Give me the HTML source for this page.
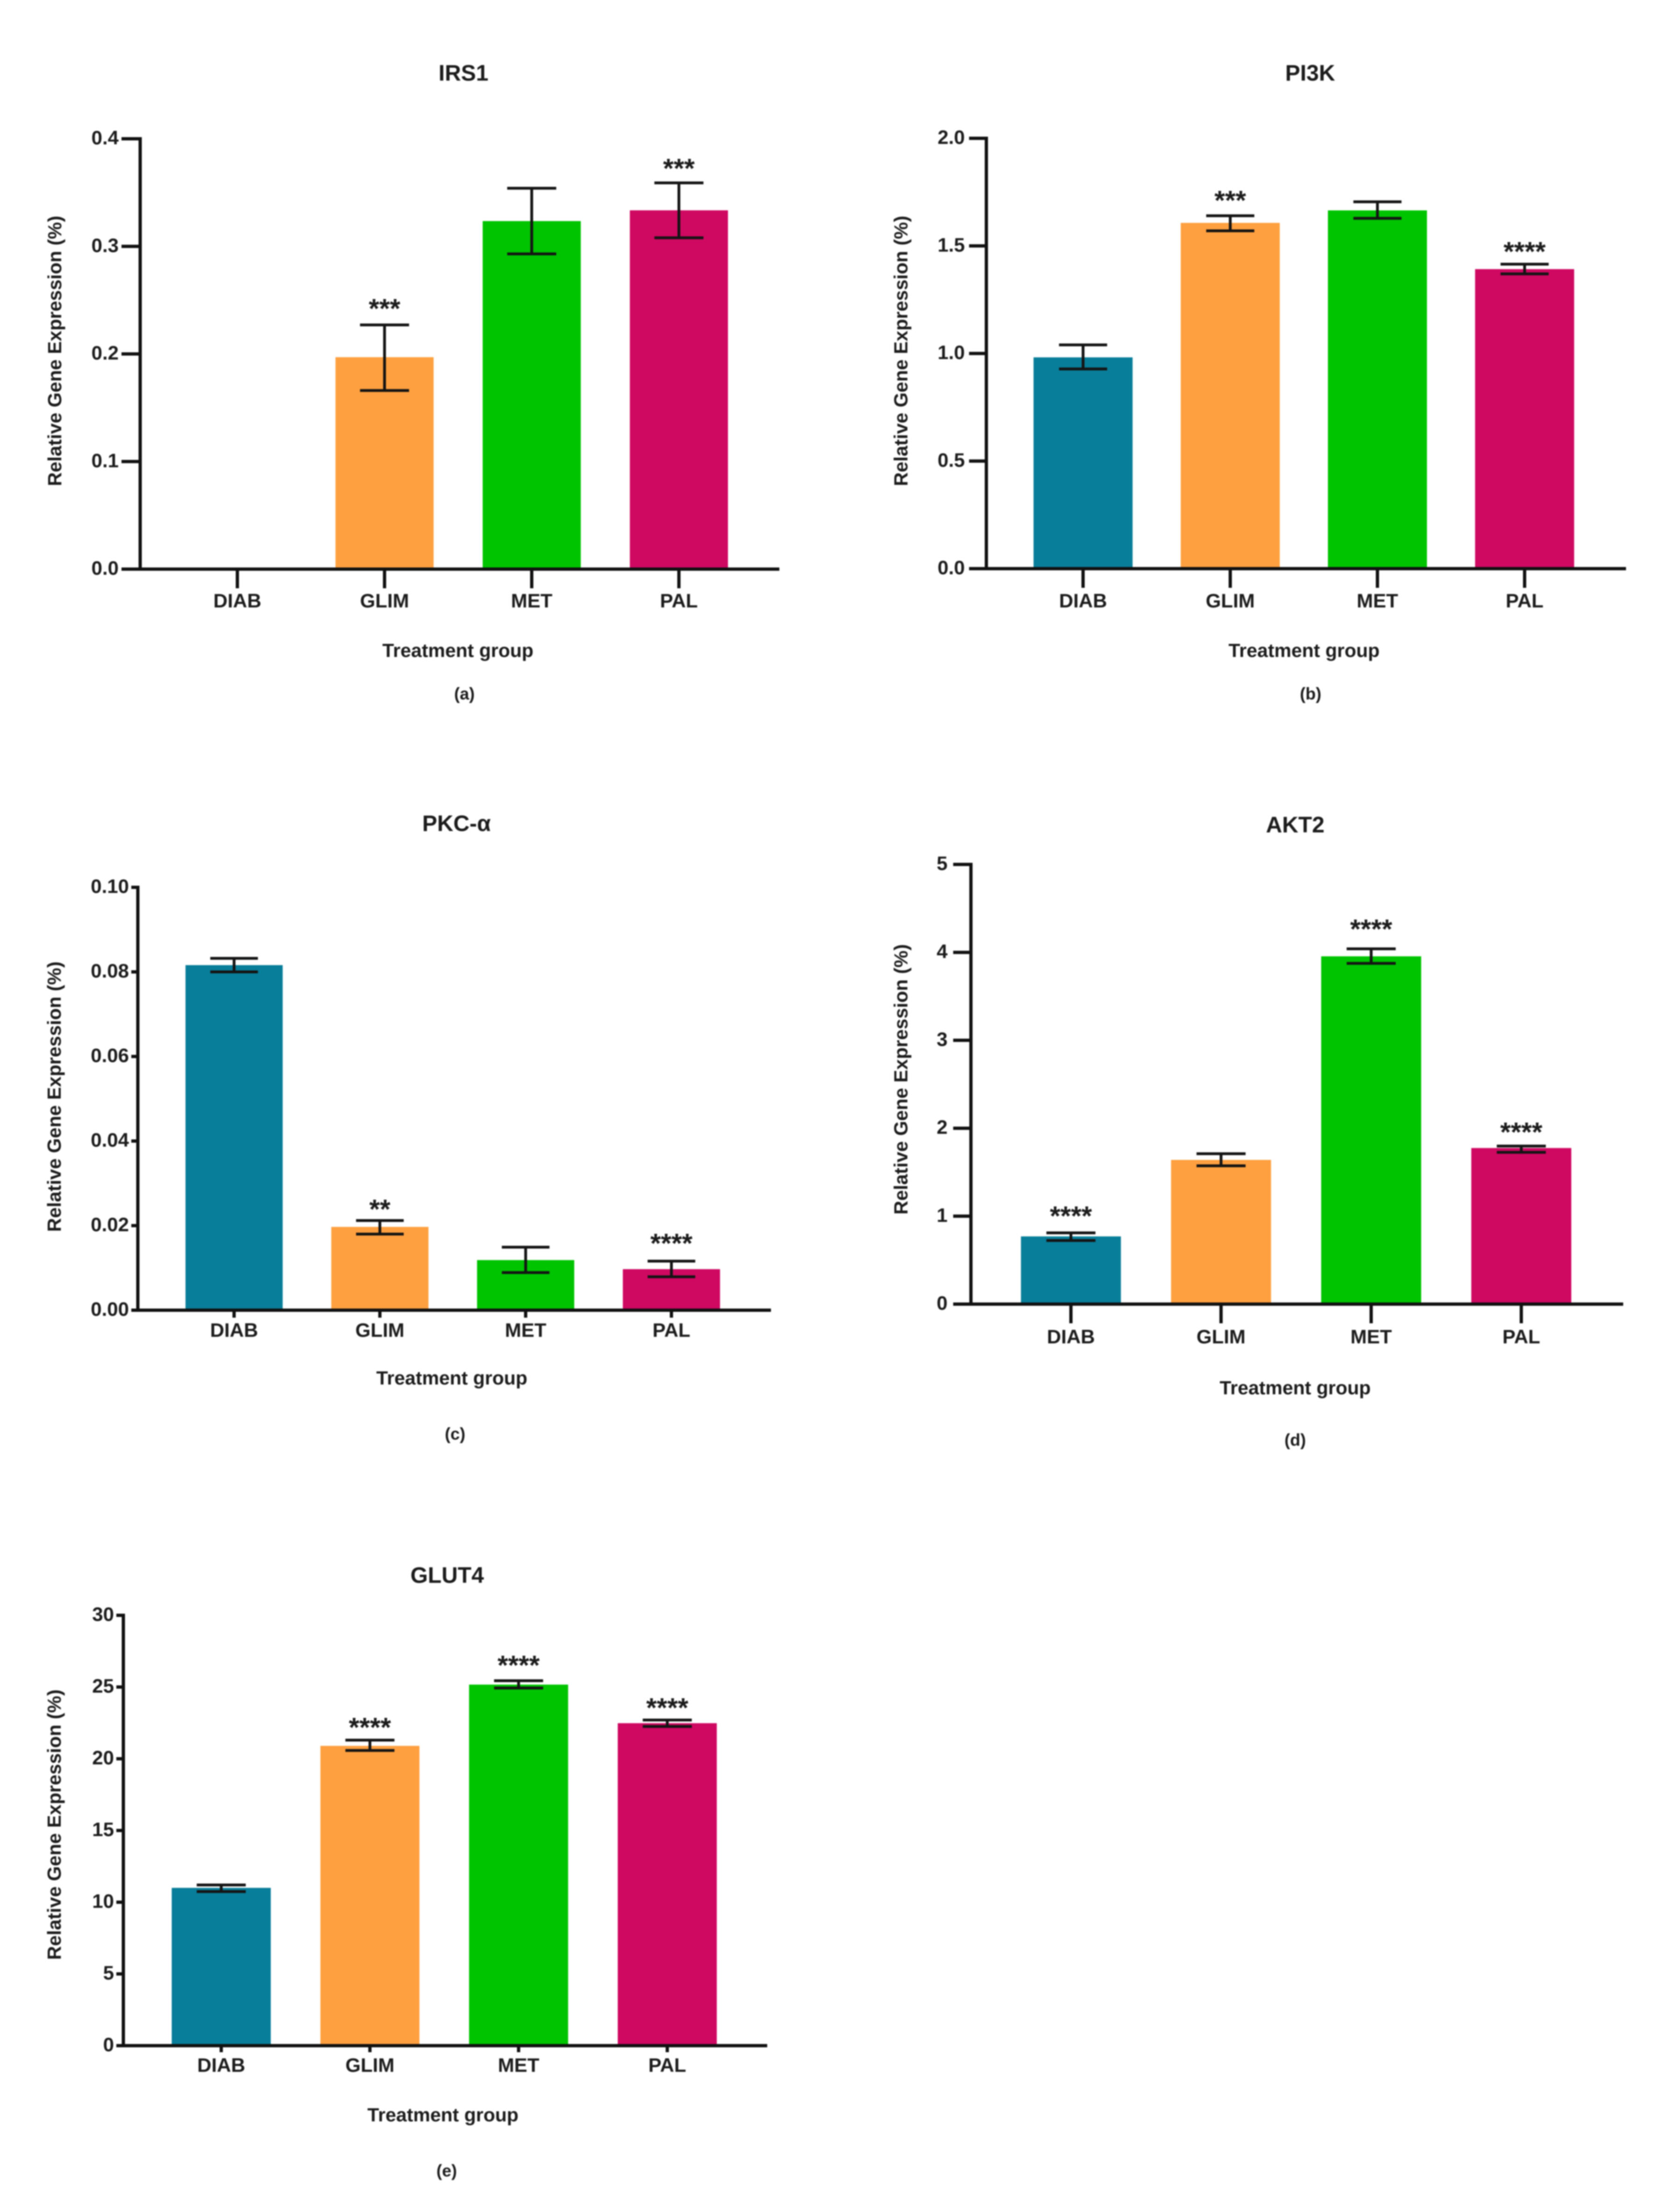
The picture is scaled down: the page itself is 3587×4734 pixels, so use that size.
<!DOCTYPE html>
<html>
<head>
<meta charset="utf-8">
<title>Relative gene expression by treatment group</title>
<style>
html,body{margin:0;padding:0;background:#fff;width:3587px;height:4734px;overflow:hidden}
svg{display:block;filter:blur(1.4px)}
text{font-family:"Liberation Sans",Arial,sans-serif;font-weight:bold;fill:#1c1c1c}
</style>
</head>
<body>
<svg id="figure" xmlns="http://www.w3.org/2000/svg" width="3587" height="4734" viewBox="0 0 3587 4734">
<rect x="0" y="0" width="3587" height="4734" fill="#fff"/>
</svg>
<script>
const categories = ['DIAB', 'GLIM', 'MET', 'PAL'];
const barColors = ['#087e9a', '#ffa040', '#00c400', '#cf0862'];

const irs1Ticks = ['0.0', '0.1', '0.2', '0.3', '0.4'];
const irs1Values = [0, 0.197, 0.3235, 0.3335];
const irs1High = [null, 0.227, 0.354, 0.359];
const irs1Low = [null, 0.166, 0.293, 0.308];
const irs1Sig = ['', '***', '', '***'];

const pi3kTicks = ['0.0', '0.5', '1.0', '1.5', '2.0'];
const pi3kValues = [0.982, 1.607, 1.665, 1.392];
const pi3kHigh = [1.04, 1.64, 1.705, 1.415];
const pi3kLow = [0.928, 1.57, 1.628, 1.37];
const pi3kSig = ['', '***', '', '****'];

const pkcTicks = ['0.00', '0.02', '0.04', '0.06', '0.08', '0.10'];
const pkcValues = [0.0816, 0.0197, 0.01185, 0.0097];
const pkcHigh = [0.0832, 0.0212, 0.0149, 0.0116];
const pkcLow = [0.08, 0.018, 0.0089, 0.0079];
const pkcSig = ['', '**', '', '****'];

const akt2Ticks = ['0', '1', '2', '3', '4', '5'];
const akt2Values = [0.77, 1.64, 3.955, 1.775];
const akt2High = [0.81, 1.71, 4.04, 1.797];
const akt2Low = [0.723, 1.573, 3.875, 1.726];
const akt2Sig = ['****', '', '****', '****'];

const glut4Ticks = ['0', '5', '10', '15', '20', '25', '30'];
const glut4Values = [11.0, 20.9, 25.17, 22.48];
const glut4High = [11.2, 21.3, 25.44, 22.7];
const glut4Low = [10.74, 20.58, 24.93, 22.25];
const glut4Sig = ['', '****', '****', '****'];

const panels = [
  { id: 'irs1', title: 'IRS1', caption: '(a)', ticks: irs1Ticks, values: irs1Values, high: irs1High, low: irs1Low, sig: irs1Sig,
    axisX: 300, top: 297, base: 1218, right: 1668, yTick: 40, xTick: 41, first: 508, step: 315,
    barW: 210, capW: 105, starGap: [0, 41, 0, 37], labelRight: 254, titleX: 992, titleY: 158, catY: 1288,
    xTitleX: 984, xTitleY: 1395, capX: 994, capY: 1487, yTitleX: 118, yTitleY: 751 },
  { id: 'pi3k', title: 'PI3K', caption: '(b)', ticks: pi3kTicks, values: pi3kValues, high: pi3kHigh, low: pi3kLow, sig: pi3kSig,
    axisX: 2111, top: 296, base: 1217, right: 3480, yTick: 37, xTick: 41, first: 2318, step: 315,
    barW: 212, capW: 103, starGap: [0, 39, 0, 33], labelRight: 2065, titleX: 2804, titleY: 158, catY: 1288,
    xTitleX: 2795, xTitleY: 1395, capX: 2805, capY: 1487, yTitleX: 1929, yTitleY: 751 },
  { id: 'pkc', title: 'PKC-\u03b1', caption: '(c)', ticks: pkcTicks, values: pkcValues, high: pkcHigh, low: pkcLow, sig: pkcSig,
    axisX: 295, top: 1899, base: 2804, right: 1650, yTick: 14, xTick: 16, first: 501, step: 312,
    barW: 208, capW: 102, starGap: [0, 30, 0, 44], labelRight: 276, titleX: 977, titleY: 1764, catY: 2849,
    xTitleX: 971, xTitleY: 2952, capX: 974, capY: 3071, yTitleX: 117, yTitleY: 2347 },
  { id: 'akt2', title: 'AKT2', caption: '(d)', ticks: akt2Ticks, values: akt2Values, high: akt2High, low: akt2Low, sig: akt2Sig,
    axisX: 2078, top: 1850, base: 2791, right: 3474, yTick: 38, xTick: 41, first: 2292, step: 321.3,
    barW: 214, capW: 105, starGap: [42, 0, 48, 36], labelRight: 2028, titleX: 2772, titleY: 1767, catY: 2863,
    xTitleX: 2776, xTitleY: 2973, capX: 2772, capY: 3084, yTitleX: 1929, yTitleY: 2310 },
  { id: 'glut4', title: 'GLUT4', caption: '(e)', ticks: glut4Ticks, values: glut4Values, high: glut4High, low: glut4Low, sig: glut4Sig,
    axisX: 264, top: 3457, base: 4378, right: 1642, yTick: 15, xTick: 14, first: 473.5, step: 318.2,
    barW: 212, capW: 105, starGap: [0, 33, 39, 32], labelRight: 244, titleX: 957, titleY: 3373, catY: 4422,
    xTitleX: 952, xTitleY: 4529, capX: 956, capY: 4648, yTitleX: 117, yTitleY: 3905 }
];

const SVG_NS = 'http://www.w3.org/2000/svg';
const figure = document.getElementById('figure');

function shape(parent, tag, props, content) {
  const el = document.createElementNS(SVG_NS, tag);
  for (const key in props) el.setAttribute(key, props[key]);
  if (content !== undefined) el.textContent = content;
  parent.appendChild(el);
  return el;
}

function capText(parent, x, centerY, size, anchor, content) {
  return shape(parent, 'text', { x: x, y: centerY + size * 0.36 - 3, 'font-size': size, 'text-anchor': anchor }, content);
}

panels.forEach(function (p) {
  const maxValue = parseFloat(p.ticks[p.ticks.length - 1]);
  const yScale = function (v) { return p.base - (v / maxValue) * (p.base - p.top); };
  const xScale = function (i) { return p.first + i * p.step; };

  const group = shape(figure, 'g', {});
  
  

  const title = capText(group, p.titleX, p.titleY, 48, 'middle', p.title);
  
  

  categories.forEach(function (cat, i) {
    const h = p.base - yScale(p.values[i]);
    if (h > 0) {
      const bar = shape(group, 'rect', { x: xScale(i) - p.barW / 2, y: yScale(p.values[i]), width: p.barW, height: h, fill: barColors[i] });
      
      
    }
    if (p.high[i] !== null && p.low[i] !== null) {
      const cx = xScale(i);
      const yHi = yScale(p.high[i]);
      const yLo = yScale(p.low[i]);
      const halfCap = p.capW / 2;
      const err = shape(group, 'path', {
        d: 'M' + cx + ' ' + yHi + 'V' + yLo + 'M' + (cx - halfCap) + ' ' + yHi + 'H' + (cx + halfCap) + 'M' + (cx - halfCap) + ' ' + yLo + 'H' + (cx + halfCap),
        fill: 'none', stroke: '#141414', 'stroke-width': 6
      });
      
      
    }
    if (p.sig[i]) {
      const starCenter = yScale(p.high[i]) - p.starGap[i];
      const star = shape(group, 'text', { x: xScale(i), y: starCenter + 26, 'font-size': 58, 'text-anchor': 'middle' }, p.sig[i]);
      
      
    }
    const xt = shape(group, 'line', { x1: xScale(i), x2: xScale(i), y1: p.base, y2: p.base + p.xTick, stroke: '#111', 'stroke-width': 7 });
    
    
    const xl = capText(group, xScale(i), p.catY, 42, 'middle', cat);
    
    
  });

  p.ticks.forEach(function (label) {
    const y = yScale(parseFloat(label));
    const yt = shape(group, 'line', { x1: p.axisX - p.yTick, x2: p.axisX, y1: y, y2: y, stroke: '#111', 'stroke-width': 7 });
    
    
    const yl = capText(group, p.labelRight, y, 42, 'end', label);
    
    
  });

  const yAxis = shape(group, 'line', { x1: p.axisX, x2: p.axisX, y1: p.top - 3.5, y2: p.base + 3.5, stroke: '#111', 'stroke-width': 7 });
  
  

  const xAxis = shape(group, 'line', { x1: p.axisX - p.yTick, x2: p.right, y1: p.base, y2: p.base, stroke: '#111', 'stroke-width': 7 });
  
  

  const xTitle = capText(group, p.xTitleX - 4, p.xTitleY - 1, 41, 'middle', 'Treatment group');
  
  

  const yTitle = shape(group, 'text', {
    x: p.yTitleX + 13, y: p.yTitleY, 'font-size': 41, 'text-anchor': 'middle',
    transform: 'rotate(-90 ' + (p.yTitleX + 13) + ' ' + p.yTitleY + ')'
  }, 'Relative Gene Expression (%)');
  
  

  const caption = capText(group, p.capX, p.capY, 36, 'middle', p.caption);
  
  
});
</script>
</body>
</html>
